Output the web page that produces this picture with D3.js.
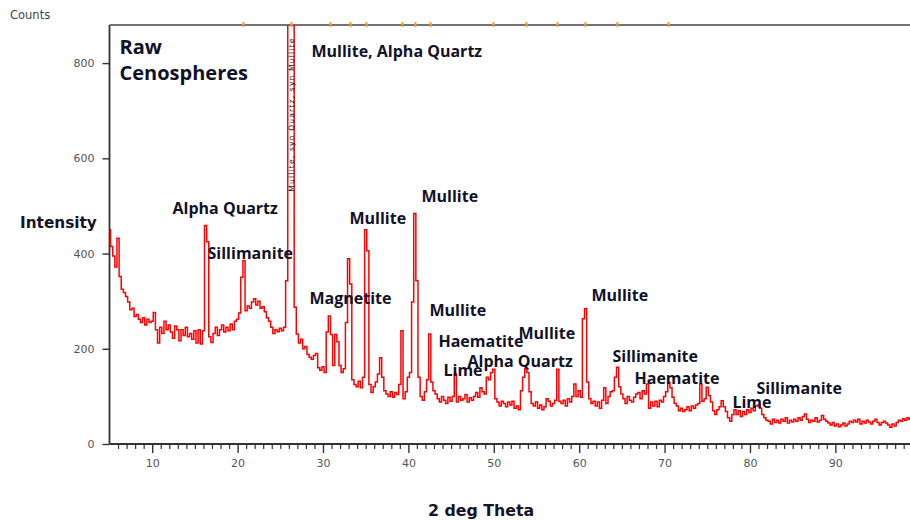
<!DOCTYPE html>
<html>
<head>
<meta charset="utf-8">
<script src="https://cdn.jsdelivr.net/npm/d3@7"></script>
<style>
  body { margin: 0; background: #fff; }
  svg { display: block; }
</style>
</head>
<body>
<svg id="chart" width="910" height="520"></svg>
<script>
// XRD scan of raw cenospheres: counts recorded every 0.25 deg 2-theta from 5 deg
const scanStart = 5;
const scanStep = 0.25;
const counts = [
  450, 415, 395, 372,   // 5
  432, 352, 325, 318,   // 6
  310, 298, 282, 285,   // 7
  268, 272, 262, 255,   // 8
  265, 250, 262, 255,   // 9
  258, 276, 240, 212,   // 10
  245, 232, 258, 240,   // 11
  250, 235, 222, 248,   // 12
  240, 217, 240, 228,   // 13
  245, 225, 232, 220,   // 14
  238, 212, 240, 210,   // 15
  238, 459, 425, 225,   // 16
  213, 232, 245, 228,   // 17
  240, 250, 235, 245,   // 18
  238, 252, 240, 258,   // 19
  262, 275, 350, 385,   // 20
  280, 290, 285, 298,   // 21
  305, 292, 300, 285,   // 22
  288, 278, 265, 258,   // 23
  245, 232, 240, 236,   // 24
  243, 238, 245, 343,   // 25
  895, 895, 895, 287,   // 26
  231, 212, 220, 200,   // 27
  205, 188, 182, 178,   // 28
  186, 190, 160, 155,   // 29
  162, 150, 235, 269,   // 30
  230, 165, 230, 215,   // 31
  165, 150, 158, 255,   // 32
  389, 336, 135, 125,   // 33
  120, 132, 118, 140,   // 34
  450, 406, 125, 108,   // 35
  120, 130, 147, 181,   // 36
  140, 112, 105, 100,   // 37
  110,  98, 108, 104,   // 38
  125, 238,  95, 110,   // 39
  140, 150, 298, 484,   // 40
  343, 140, 100,  92,   // 41
  110, 135, 231, 130,   // 42
  112, 105,  95,  88,   // 43
  100,  92,  85,  98,   // 44
   90, 100, 147,  88,   // 45
  100,  92,  95, 104,   // 46
   88,  97,  92, 100,   // 47
  108,  98, 118, 110,   // 48
  105, 140, 135, 150,   // 49
  157,  95,  88,  80,   // 50
   90,  85,  78,  88,   // 51
   82,  90,  75,  80,   // 52
   72, 112, 140, 158,   // 53
  150, 110,  85,  80,   // 54
   88,  75,  82,  72,   // 55
   78,  95,  90,  80,   // 56
   85,  92, 157,  90,   // 57
   85,  92,  80,  95,   // 58
   88, 100, 126, 100,   // 59
  112,  98, 263, 284,   // 60
  130,  95,  85,  90,   // 61
   80,  88,  75,  92,   // 62
  118,  85, 100, 110,   // 63
  112, 140, 161, 120,   // 64
  105,  95,  85, 100,   // 65
   92,  88,  98, 105,   // 66
  108,  95, 112, 105,   // 67
  126,  75,  88,  80,   // 68
   90,  78,  92,  88,   // 69
  100, 110, 129, 118,   // 70
   98,  85,  80,  70,   // 71
   75,  68,  72,  78,   // 72
   70,  80,  75,  82,   // 73
   85, 126,  90,  95,   // 74
  119, 102,  88,  70,   // 75
   62,  72,  78,  91,   // 76
   78,  68,  55,  48,   // 77
   62,  72,  62,  70,   // 78
   58,  68,  62,  72,   // 79
   66,  75,  70,  80,   // 80
   82,  75,  62,  55,   // 81
   50,  48,  42,  52,   // 82
   45,  50,  44,  52,   // 83
   48,  55,  44,  50,   // 84
   46,  52,  48,  55,   // 85
   50,  58,  63,  52,   // 86
   45,  50,  48,  55,   // 87
   46,  50,  60,  52,   // 88
   48,  44,  40,  45,   // 89
   38,  42,  36,  40,   // 90
   44,  38,  42,  48,   // 91
   45,  50,  46,  52,   // 92
   42,  48,  44,  50,   // 93
   46,  42,  48,  52,   // 94
   45,  40,  45,  48,   // 95
   44,  40,  35,  42,   // 96
   38,  45,  50,  48,   // 97
   53,  50,  55,  52    // 98
];

// Axis ticks
const xTickValues = [10, 20, 30, 40, 50, 60, 70, 80, 90];
const yTickValues = [0, 200, 400, 600, 800];

// Reference reflection positions marked along the top frame (deg 2-theta)
const referencePeaks = [20.69, 26.31, 30.88, 33.22, 35.09, 39.31, 40.83, 42.59,
                        49.96, 53.83, 57.46, 60.74, 64.48, 70.46];

// Phase annotations, anchored at (2-theta, counts) of their text start
const phaseNames  = ["Mullite, Alpha Quartz", "Alpha Quartz", "Sillimanite", "Mullite", "Mullite",
                     "Magnetite", "Mullite", "Haematite", "Lime", "Alpha Quartz", "Mullite",
                     "Mullite", "Sillimanite", "Haematite", "Lime", "Sillimanite"];
const phaseTheta  = [28.65, 12.38, 16.48, 33.10, 41.53, 28.42, 42.47, 43.52, 44.11, 46.92,
                     52.89, 61.44, 63.90, 66.48, 77.95, 80.76];
const phaseCounts = [813, 484, 389, 463, 509, 295, 269, 204, 143, 162, 221, 301, 173, 126, 75, 106];

const sampleName = ["Raw", "Cenospheres"];

const svg = d3.select("#chart");
const W = 910;

const x = d3.scaleLinear().domain([5, 98.8]).range([109.5, 910.5]);
const y = d3.scaleLinear().domain([0, 880]).range([444, 25]);

const data = counts.map((c, i) => ({ theta: scanStart + i * scanStep, count: c }));

const axisColor = "#333";
const tickFont = "'DejaVu Sans', sans-serif";

// plot clip
svg.append("defs").append("clipPath").attr("id", "plotClip")
  .append("rect").attr("x", x(5)).attr("y", y(880)).attr("width", W - x(5)).attr("height", y(0) - y(880));

// top frame line
svg.append("line")
  .attr("x1", x(5)).attr("x2", W).attr("y1", y(880)).attr("y2", y(880))
  .attr("stroke", "#444").attr("stroke-width", 1.6);

// reference peak markers on the top frame
svg.append("g").selectAll("rect").data(referencePeaks).join("rect")
  .attr("x", d => x(d) - 1).attr("y", y(880) - 3)
  .attr("width", 2).attr("height", 5)
  .attr("fill", "#f5a035");

// minor x ticks
const xMinor = d3.range(6, 99, 1).filter(v => v % 10 !== 0);
svg.append("g")
  .attr("transform", `translate(0,${y(0)})`)
  .call(d3.axisBottom(x).tickValues(xMinor).tickSize(5).tickSizeOuter(0).tickFormat(""))
  .call(g => g.select(".domain").remove())
  .call(g => g.selectAll("line").attr("stroke", axisColor).attr("stroke-width", 1.2));

// major x axis
svg.append("g")
  .attr("transform", `translate(0,${y(0)})`)
  .call(d3.axisBottom(x).tickValues(xTickValues).tickSize(9).tickSizeOuter(0).tickPadding(6))
  .call(g => g.select(".domain").attr("stroke", axisColor).attr("stroke-width", 1.8)
                .attr("d", `M${x(5)},0H${W}`))
  .call(g => g.selectAll("line").attr("stroke", axisColor).attr("stroke-width", 1.4))
  .call(g => g.selectAll("text").attr("fill", "#555").attr("font-size", 11).attr("font-family", tickFont));

// y axis
svg.append("g")
  .attr("transform", `translate(${x(5)},0)`)
  .call(d3.axisLeft(y).tickValues(yTickValues).tickSize(7).tickSizeOuter(0).tickPadding(8))
  .call(g => g.select(".domain").attr("stroke", axisColor).attr("stroke-width", 1.8)
                .attr("d", `M0,${y(880)}V${y(0)}`))
  .call(g => g.selectAll("line").attr("stroke", axisColor).attr("stroke-width", 1.4))
  .call(g => g.selectAll("text").attr("fill", "#555").attr("font-size", 11).attr("font-family", tickFont));

// diffraction pattern
const line = d3.line()
  .x(d => x(d.theta))
  .y(d => y(d.count))
  .curve(d3.curveStep);

svg.append("path")
  .datum(data)
  .attr("clip-path", "url(#plotClip)")
  .attr("fill", "none")
  .attr("stroke", "#ff0000")
  .attr("stroke-width", 1.5)
  .attr("stroke-linejoin", "miter")
  .attr("d", line);

// phase card tag printed along the strongest reflection
const tagX = x(26.31) + 3;
svg.append("text")
  .attr("transform", `translate(${tagX},${y(530)}) rotate(-90)`)
  .attr("font-family", "'DejaVu Sans', sans-serif")
  .attr("font-size", 7.5)
  .attr("letter-spacing", 1.2)
  .attr("fill", "#111")
  .text("Mullite, syn  Quartz, syn  Mullite");

// axis titles
svg.append("text")
  .attr("x", 10).attr("y", 19)
  .attr("font-family", tickFont).attr("font-size", 11.5).attr("fill", "#444")
  .text("Counts");

svg.append("text")
  .attr("x", 20).attr("y", 228)
  .attr("font-family", "'DejaVu Sans', sans-serif").attr("font-weight", "bold")
  .attr("font-size", 15.3).attr("fill", "#141428")
  .text("Intensity");

svg.append("text")
  .attr("x", 428).attr("y", 516)
  .attr("font-family", "'DejaVu Sans', sans-serif").attr("font-weight", "bold")
  .attr("font-size", 15.8).attr("fill", "#141428")
  .text("2 deg Theta");

// sample name
const labelFont = "'Open Sans', Lato, sans-serif";
svg.append("g").selectAll("text").data(sampleName).join("text")
  .attr("x", x(6.17))
  .attr("y", (d, i) => y(820) + i * 26)
  .attr("font-family", labelFont).attr("font-weight", "bold")
  .attr("font-size", 20).attr("fill", "#111128")
  .text(d => d);

// phase labels
svg.append("g").selectAll("text").data(phaseNames).join("text")
  .attr("x", (d, i) => x(phaseTheta[i]))
  .attr("y", (d, i) => y(phaseCounts[i]))
  .attr("font-family", labelFont).attr("font-weight", "bold")
  .attr("font-size", 16).attr("fill", "#111128")
  .text(d => d);
</script>
</body>
</html>
